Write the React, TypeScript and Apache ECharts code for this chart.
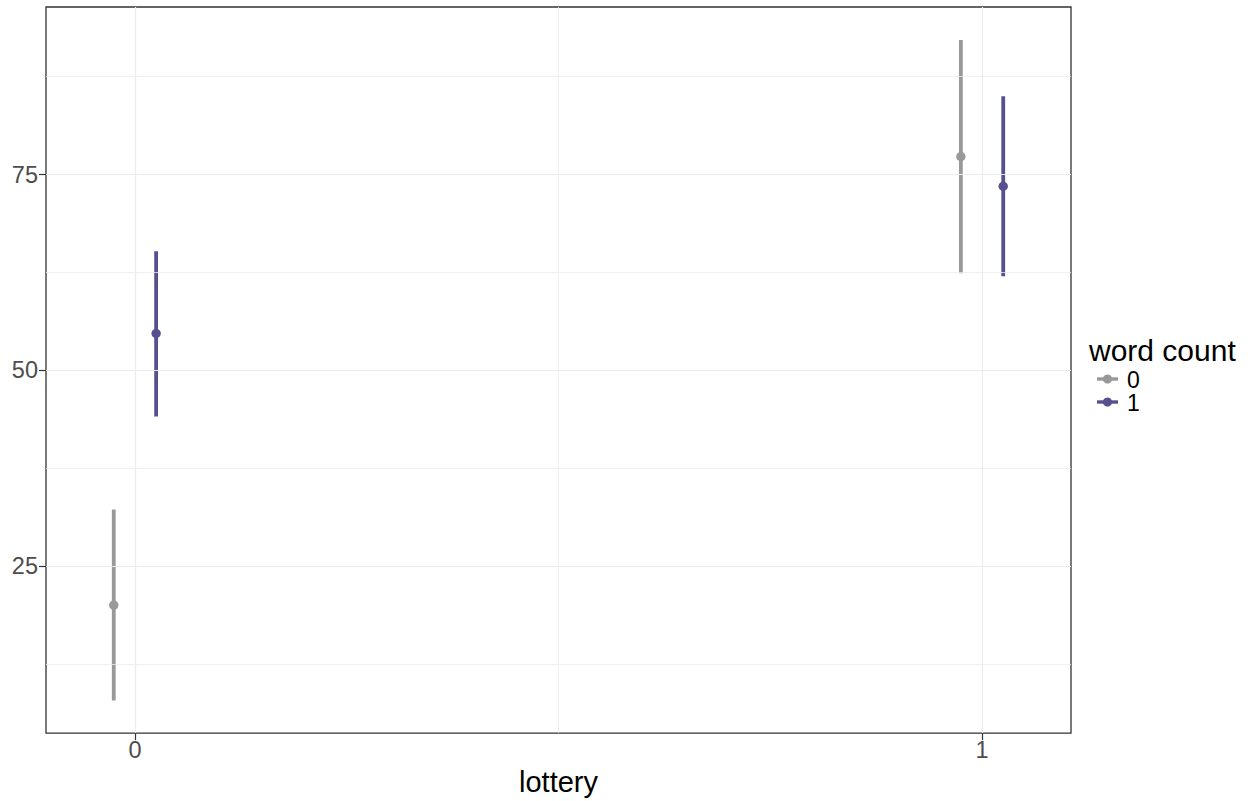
import React, { useEffect, useRef } from "react";
import * as echarts from "echarts";

const lotteryLevels = [0, 1];
const wordCountLevels = ["0", "1"];
const dodge = [-0.025, 0.025];

// word count 0
const mean0 = [20.0, 77.3];
const lo0 = [7.8, 62.4];
const hi0 = [32.2, 92.2];
// word count 1
const mean1 = [54.7, 73.5];
const lo1 = [44.1, 62.0];
const hi1 = [65.2, 85.0];

const colors = ["#999999", "#56508f"];
const xTicks = [0, 1];
const yTicks = [25, 50, 75];
const xGrid = [0, 0.5, 1];
const yGrid = [12.5, 25, 37.5, 50, 62.5, 75, 87.5];

const FONT = "'Liberation Sans', Arial, Helvetica, sans-serif";

export default function App() {
  const ref = useRef<HTMLDivElement>(null);
  useEffect(() => {
    if (!ref.current) return;
    const chart = echarts.init(ref.current, undefined, { renderer: "svg" });
    const groups = [
      { mean: mean0, lo: lo0, hi: hi0 },
      { mean: mean1, lo: lo1, hi: hi1 },
    ];
    const series: any[] = [];
    series.push({
      type: "line",
      data: [],
      silent: true,
      markLine: {
        silent: true,
        symbol: "none",
        label: { show: false },
        animation: false,
        data: [
          ...xGrid.map((v) => ({ xAxis: v, lineStyle: { color: "#ebebeb", width: v === 0.5 ? 0.8 : 1.2, type: "solid" } })),
          ...yGrid.map((v) => ({ yAxis: v, lineStyle: { color: "#ebebeb", width: v % 25 === 0 ? 1.2 : 0.8, type: "solid" } })),
        ],
      },
    });
    groups.forEach((g, gi) => {
      series.push({
        type: "custom",
        name: wordCountLevels[gi],
        data: lotteryLevels.map((l, i) => [l + dodge[gi], g.lo[i], g.hi[i], g.mean[i]]),
        renderItem: (params: any, api: any) => {
          const x = api.value(0);
          const pLo = api.coord([x, api.value(1)]);
          const pHi = api.coord([x, api.value(2)]);
          const pM = api.coord([x, api.value(3)]);
          return {
            type: "group",
            children: [
              {
                type: "line",
                shape: { x1: pLo[0], y1: pLo[1], x2: pHi[0], y2: pHi[1] },
                style: { stroke: colors[gi], lineWidth: 3.8, lineCap: "butt" },
              },
              {
                type: "circle",
                shape: { cx: pM[0], cy: pM[1], r: 4.7 },
                style: { fill: colors[gi] },
              },
            ],
          };
        },
      });
    });

    const legendX = 1097;
    const legendY0 = 379;
    const legendStep = 23;
    const graphic: any[] = [
      {
        type: "text",
        x: 1089,
        y: 365,
        style: { text: "word count", font: `30px ${FONT}`, fill: "#000000", verticalAlign: "bottom" },
      },
    ];
    wordCountLevels.forEach((lv, i) => {
      const y = legendY0 + i * legendStep;
      graphic.push({
        type: "line",
        shape: { x1: legendX, y1: y, x2: legendX + 21, y2: y },
        style: { stroke: colors[i], lineWidth: 3.4 },
      });
      graphic.push({
        type: "circle",
        shape: { cx: legendX + 10.5, cy: y, r: 4.6 },
        style: { fill: colors[i] },
      });
      graphic.push({
        type: "text",
        x: 1127,
        y: y + 1,
        style: { text: lv, font: `23px ${FONT}`, lineHeight: 20, fill: "#000000", verticalAlign: "middle" },
      });
    });

    chart.setOption({
      animation: false,
      grid: {
        left: 46,
        right: 179,
        top: 7,
        bottom: 64,
        show: true,
        borderColor: "#333333",
        borderWidth: 1.3,
        backgroundColor: "transparent",
      },
      xAxis: {
        type: "value",
        min: -0.105,
        max: 1.105,
        name: "lottery",
        nameLocation: "middle",
        nameGap: 30,
        nameTextStyle: { fontSize: 29, color: "#000000", fontFamily: FONT },
        axisLine: { show: false, onZero: false },
        splitLine: { show: false },
        axisTick: { show: true, customValues: xTicks, length: 7, lineStyle: { color: "#333333", width: 1.2 } },
        axisLabel: { customValues: xTicks, fontSize: 23.5, color: "#4d4d4d", fontFamily: FONT, margin: 5 },
      },
      yAxis: {
        type: "value",
        min: 3.65,
        max: 96.4,
        axisLine: { show: false, onZero: false },
        splitLine: { show: false },
        axisTick: { show: true, customValues: yTicks, length: 7, lineStyle: { color: "#333333", width: 1.2 } },
        axisLabel: { customValues: yTicks, fontSize: 23.5, color: "#4d4d4d", fontFamily: FONT, margin: 8 },
      },
      graphic,
      series,
    });
    return () => chart.dispose();
  }, []);
  return <div ref={ref} style={{ width: 1250, height: 801, position: "absolute", left: 0, top: 0 }} />;
}
